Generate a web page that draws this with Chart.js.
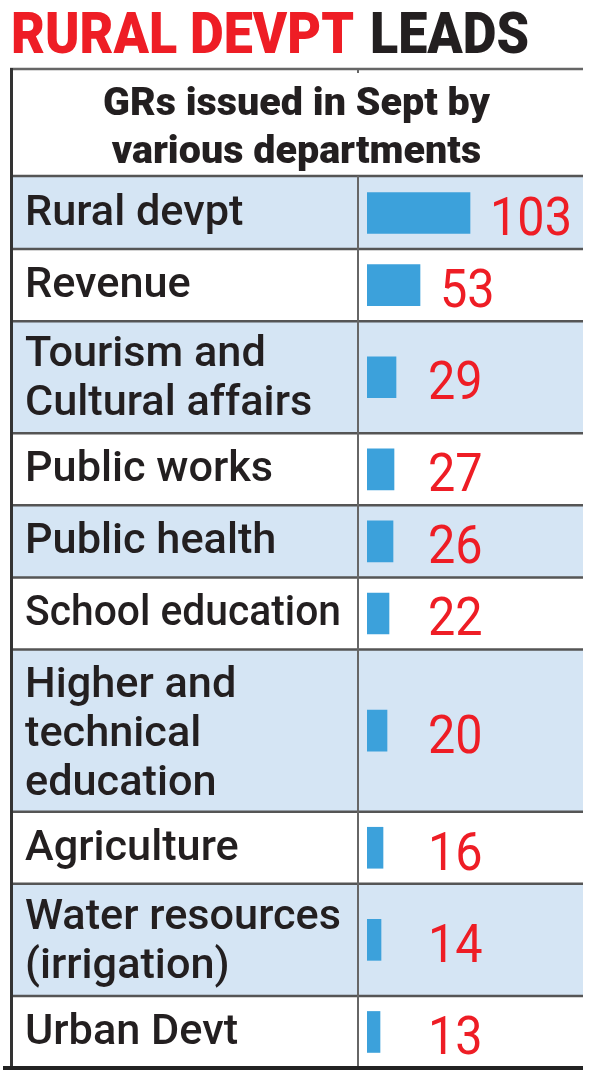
<!DOCTYPE html>
<html><head><meta charset="utf-8">
<script src="https://cdn.jsdelivr.net/npm/chart.js@4.4.0/dist/chart.umd.min.js"></script>
<style>html,body{margin:0;padding:0;background:#fff;}#wrap{width:600px;height:1080px;position:relative}canvas{display:block}</style>
</head><body><div id="wrap"><canvas id="c" width="600" height="1080"></canvas></div>
<script>
// ---- data ----
const titleRed = "RURAL DEVPT";
const titleBlack = "LEADS";
const headerLines = ["GRs issued in Sept by", "various departments"];
const categories = [
  ["Rural devpt"],
  ["Revenue"],
  ["Tourism and", "Cultural affairs"],
  ["Public works"],
  ["Public health"],
  ["School education"],
  ["Higher and", "technical", "education"],
  ["Agriculture"],
  ["Water resources", "(irrigation)"],
  ["Urban Devt"]
];
const values = [103, 53, 29, 27, 26, 22, 20, 16, 14, 13];

// ---- layout (row heights by number of label lines) ----
const ROW_H = {1: 72, 2: 112, 3: 162};
const rowTops = [];
let acc = 0;
categories.forEach(c => { rowTops.push(acc); acc += ROW_H[c.length]; });
const totalH = acc;
const rowCenters = categories.map((c, i) => rowTops[i] + ROW_H[c.length] / 2);

const C = {
  red: '#ee1d25', ink: '#231f20', blue: '#d5e5f4', bar: '#3ca1db',
  line: '#555555', dark: '#222222'
};
const LEFT = 10, DIV = 358, RIGHT = 583, TOP = 68, HEAD_B = 176;

function drawScaled(ctx, text, x, y, sx, align, maxW) {
  ctx.save();
  ctx.translate(x, y);
  ctx.scale(sx, 1);
  ctx.textAlign = align || 'left';
  if (maxW) ctx.fillText(text, 0, 0, maxW / sx);
  else ctx.fillText(text, 0, 0);
  ctx.restore();
}
function hline(ctx, x1, x2, y, w, col) {
  ctx.beginPath(); ctx.lineWidth = w; ctx.strokeStyle = col;
  ctx.moveTo(x1, y); ctx.lineTo(x2, y); ctx.stroke();
}
function vline(ctx, x, y1, y2, w, col) {
  ctx.beginPath(); ctx.lineWidth = w; ctx.strokeStyle = col;
  ctx.moveTo(x, y1); ctx.lineTo(x, y2); ctx.stroke();
}

const tablePlugin = {
  id: 'tablePlugin',
  beforeDatasetsDraw(chart) {
    const ctx = chart.ctx, ys = chart.scales.y;
    ctx.save();
    categories.forEach((c, i) => {
      if (i % 2 === 0) {
        const y1 = ys.getPixelForValue(rowTops[i]);
        const y2 = ys.getPixelForValue(rowTops[i] + ROW_H[c.length]);
        ctx.fillStyle = C.blue;
        ctx.fillRect(LEFT, y1, RIGHT - LEFT, y2 - y1);
      }
    });
    ctx.restore();
  },
  afterDatasetsDraw(chart) {
    const ctx = chart.ctx, ys = chart.scales.y;
    ctx.save();
    ctx.textBaseline = 'alphabetic';
    // title
    ctx.font = '900 58px Roboto';
    const wRed = ctx.measureText(titleRed).width;
    const sT = 343 / wRed;
    ctx.fillStyle = C.red;
    drawScaled(ctx, titleRed, 11, 53, sT);
    ctx.fillStyle = C.ink;
    drawScaled(ctx, titleBlack, 11 + wRed * sT + 16, 53, sT);
    // header
    ctx.font = '900 39px Roboto';
    const sH = 387 / ctx.measureText(headerLines[0]).width;
    ctx.fillStyle = C.ink;
    headerLines.forEach((t, k) => drawScaled(ctx, t, (LEFT + RIGHT) / 2, 115 + k * 48, sH, 'center'));
    // row separators
    categories.forEach((c, i) => {
      if (i > 0) hline(ctx, LEFT, RIGHT, ys.getPixelForValue(rowTops[i]), 2.5, C.line);
    });
    hline(ctx, LEFT, RIGHT, TOP + 1, 2.5, '#666');
    hline(ctx, LEFT, RIGHT, HEAD_B, 2.5, C.line);
    vline(ctx, DIV, TOP, TOP + 5, 2, '#666');
    vline(ctx, DIV, HEAD_B, ys.getPixelForValue(totalH), 2, '#666');
    vline(ctx, LEFT + 1.5, TOP, ys.getPixelForValue(totalH), 3, '#333');
    hline(ctx, 3, RIGHT, ys.getPixelForValue(totalH), 4, C.dark);
    // category labels
    ctx.font = '500 42px Roboto';
    ctx.fillStyle = C.ink;
    categories.forEach((c, i) => {
      const cy = ys.getPixelForValue(rowCenters[i]);
      const n = c.length;
      c.forEach((t, k) => {
        const y = cy + 12 + (n - 1) * 1.5 + (k - (n - 1) / 2) * 49;
        drawScaled(ctx, t, 25, y, 1.03, 'left', 316);
      });
    });
    // value labels
    const meta = chart.getDatasetMeta(0);
    ctx.font = '400 54px Roboto';
    ctx.fillStyle = C.red;
    meta.data.forEach((el, i) => {
      const x = Math.max(el.x + 20, 428);
      drawScaled(ctx, String(values[i]), x, el.y + 22, 0.9);
    });
    ctx.restore();
  }
};

new Chart(document.getElementById('c'), {
  type: 'bar',
  data: {
    datasets: [{
      data: values.map((v, i) => ({x: v, y: rowCenters[i]})),
      backgroundColor: C.bar,
      borderWidth: 0,
      barThickness: 41
    }]
  },
  options: {
    indexAxis: 'y',
    responsive: false,
    animation: false,
    events: [],
    layout: {padding: {left: 367, right: 17, top: 177, bottom: 12}},
    scales: {
      x: {type: 'linear', min: 0, max: 216, display: false, offset: false},
      y: {type: 'linear', min: 0, max: totalH, reverse: true, display: false, offset: false}
    },
    plugins: {legend: {display: false}, tooltip: {enabled: false}, title: {display: false}}
  },
  plugins: [tablePlugin]
});
</script>
</body></html>
